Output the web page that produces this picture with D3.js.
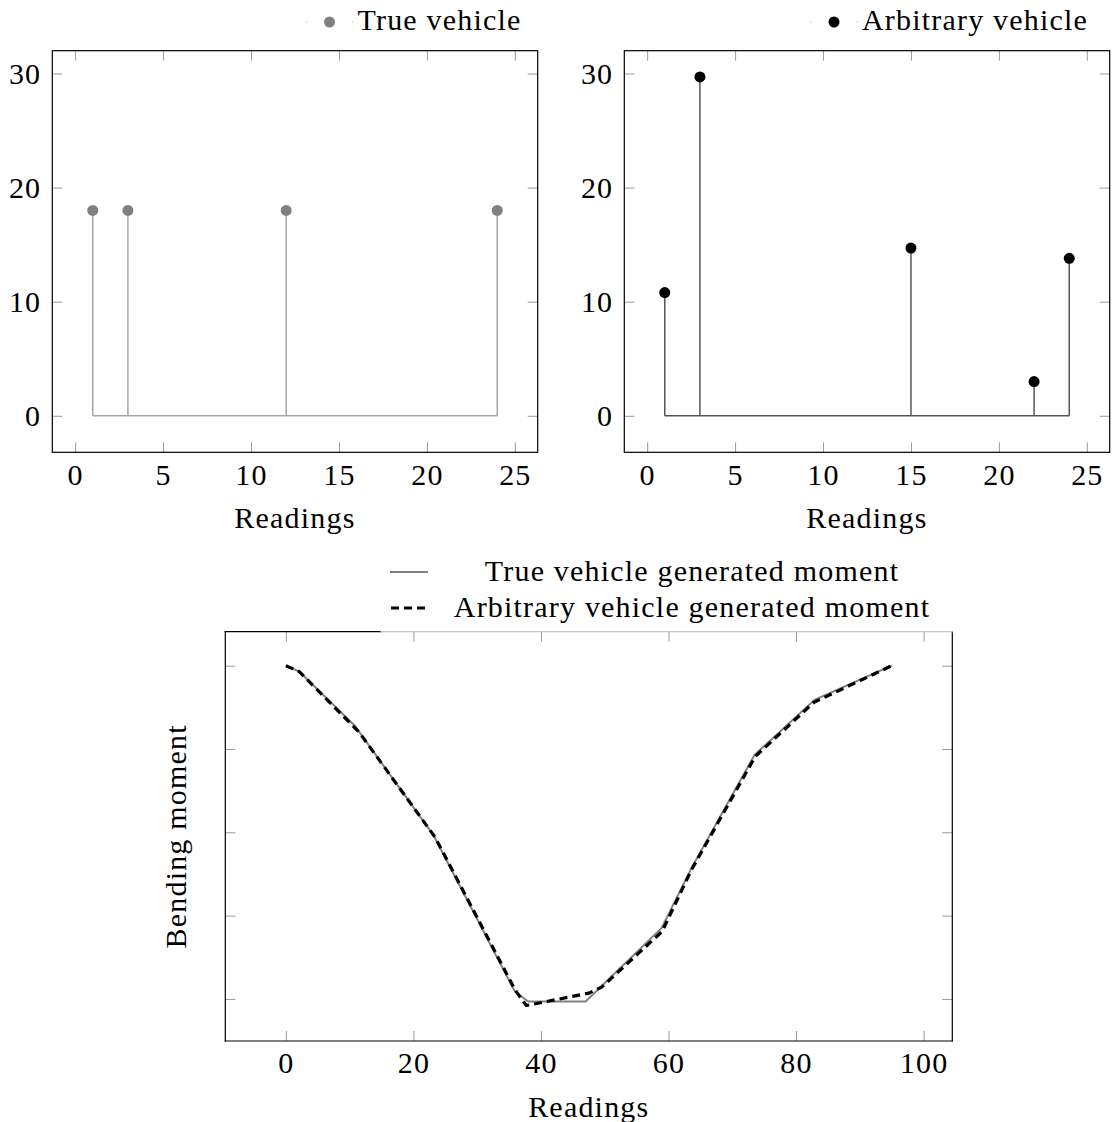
<!DOCTYPE html>
<html>
<head>
<meta charset="utf-8">
<script src="https://cdnjs.cloudflare.com/ajax/libs/d3/7.8.5/d3.min.js"></script>
<style>
body { margin: 0; background: #fff; }
svg text { font-family: "Liberation Serif", "Times New Roman", "DejaVu Serif", serif !important; }
</style>
</head>
<body>
<script>
// readings / loads for the two comb plots
var trueReadings = [1, 3, 12, 24];
var trueLoads = [18, 18, 18, 18];
var arbReadings = [1, 3, 15, 22, 24];
var arbLoads = [10.8, 29.7, 14.7, 3, 13.8];
var combTicksX = [0, 5, 10, 15, 20, 25];
var combTicksY = [0, 10, 20, 30];

// bending moment curves (y axis has no labels, arbitrary units)
var trueMomentX = [0, 2.1, 10.8, 23.1, 35.9, 38, 47, 58.9, 63.6, 73.5, 82.9, 95];
var trueMomentY = [0, -0.07, -0.72, -2.03, -3.91, -4.03, -4.03, -3.15, -2.43, -1.07, -0.41, 0];
var arbMomentX = [0, 2.1, 11.5, 23.4, 36, 37.7, 47.5, 49.5, 59, 63.6, 73.6, 82.8, 95];
var arbMomentY = [0, -0.07, -0.8, -2.06, -3.9, -4.08, -3.93, -3.86, -3.19, -2.45, -1.09, -0.44, 0];
var momentTicksX = [0, 20, 40, 60, 80, 100];
var momentTicksY = [0, -1, -2, -3, -4];

var w = 1113, h = 1122;
var fontSize = 30;
var serif = "'Liberation Serif', 'Times New Roman', 'DejaVu Serif', serif";

var svg = d3.select("body")
	.append("svg")
	.attr("width", w)
	.attr("height", h);

function styleAxis(a, showText) {
	a.select(".domain").remove();
	a.attr("font-family", serif).attr("font-size", fontSize);
	a.selectAll(".tick line").attr("stroke", "#9a9a9a").attr("stroke-width", 1);
	a.selectAll(".tick text").attr("fill", "#000").style("letter-spacing", "1.2px");
	if (!showText) a.selectAll(".tick text").remove();
}

function addText(x, y, s) {
	return svg.append("text")
		.attr("x", x).attr("y", y)
		.attr("font-family", serif)
		.attr("font-size", fontSize).style("letter-spacing", "1.2px")
		.text(s);
}

function drawFrame(left, right, top, bottom) {
	svg.append("rect")
		.attr("x", left).attr("y", top)
		.attr("width", right - left).attr("height", bottom - top)
		.attr("fill", "none").attr("stroke", "#000").attr("stroke-width", 1.2);
}

function combPlot(left, xs, ys, stemColor, markColor, label, legendX) {
	var top = 50.7, bottom = 452.3, right = left + 485.4;
	var x = d3.scaleLinear().domain([-1.3, 26.3]).range([left, right]);
	var y = d3.scaleLinear().domain([-3.2, 32]).range([bottom, top]);
	var data = xs.map(function (d, i) { return [d, ys[i]]; });

	svg.append("g").attr("transform", "translate(0," + bottom + ")")
		.call(d3.axisBottom(x).tickValues(combTicksX).tickSizeInner(-10).tickSizeOuter(0).tickPadding(11))
		.call(styleAxis, true);
	svg.append("g").attr("transform", "translate(0," + top + ")")
		.call(d3.axisTop(x).tickValues(combTicksX).tickSizeInner(-10).tickSizeOuter(0))
		.call(styleAxis, false);
	svg.append("g").attr("transform", "translate(" + left + ",0)")
		.call(d3.axisLeft(y).tickValues(combTicksY).tickSizeInner(-10).tickSizeOuter(0).tickPadding(11))
		.call(styleAxis, true);
	svg.append("g").attr("transform", "translate(" + right + ",0)")
		.call(d3.axisRight(y).tickValues(combTicksY).tickSizeInner(-10).tickSizeOuter(0))
		.call(styleAxis, false);

	// baseline + stems
	svg.append("line")
		.attr("x1", x(d3.min(xs))).attr("x2", x(d3.max(xs)))
		.attr("y1", y(0)).attr("y2", y(0))
		.attr("stroke", stemColor).attr("stroke-width", 1.5);
	svg.selectAll(null)
		.data(data)
		.enter()
		.append("line")
		.attr("x1", function (d) { return x(d[0]); })
		.attr("x2", function (d) { return x(d[0]); })
		.attr("y1", y(0))
		.attr("y2", function (d) { return y(d[1]); })
		.attr("stroke", stemColor).attr("stroke-width", 1.5);
	svg.selectAll(null)
		.data(data)
		.enter()
		.append("circle")
		.attr("cx", function (d) { return x(d[0]); })
		.attr("cy", function (d) { return y(d[1]); })
		.attr("r", 5.5)
		.attr("fill", markColor);

	drawFrame(left, right, top, bottom);

	addText((left + right) / 2, 528, "Readings").attr("text-anchor", "middle");

	// legend
	[-23, 23].forEach(function (dx) {
		svg.append("line")
			.attr("x1", legendX + dx - 0.6).attr("x2", legendX + dx + 0.6)
			.attr("y1", 22).attr("y2", 22)
			.attr("stroke", "#bbb").attr("stroke-width", 1);
	});
	svg.append("circle").attr("cx", legendX).attr("cy", 22).attr("r", 5.5).attr("fill", markColor);
	addText(legendX + 28, 30, label);
}

combPlot(52.3, trueReadings, trueLoads, "#a6a6a6", "#808080", "True vehicle", 329.5);
combPlot(624.3, arbReadings, arbLoads, "#555", "#000", "Arbitrary vehicle", 834);

// bending moment plot
var mLeft = 225.3, mRight = 952.3, mTop = 631.7, mBottom = 1041;
var mx = d3.scaleLinear().domain([-9.5, 104.5]).range([mLeft, mRight]);
var my = d3.scaleLinear().domain([-4.505, 0.408]).range([mBottom, mTop]);

svg.append("g").attr("transform", "translate(0," + mBottom + ")")
	.call(d3.axisBottom(mx).tickValues(momentTicksX).tickSizeInner(-10).tickSizeOuter(0).tickPadding(11))
	.call(styleAxis, true);
svg.append("g").attr("transform", "translate(0," + mTop + ")")
	.call(d3.axisTop(mx).tickValues(momentTicksX).tickSizeInner(-10).tickSizeOuter(0))
	.call(styleAxis, false);
svg.append("g").attr("transform", "translate(" + mLeft + ",0)")
	.call(d3.axisLeft(my).tickValues(momentTicksY).tickSizeInner(-10).tickSizeOuter(0))
	.call(styleAxis, false);
svg.append("g").attr("transform", "translate(" + mRight + ",0)")
	.call(d3.axisRight(my).tickValues(momentTicksY).tickSizeInner(-10).tickSizeOuter(0))
	.call(styleAxis, false);

var momentLine = d3.line()
	.x(function (d) { return mx(d[0]); })
	.y(function (d) { return my(d[1]); });

svg.append("path")
	.datum(trueMomentX.map(function (d, i) { return [d, trueMomentY[i]]; }))
	.attr("d", momentLine)
	.attr("fill", "none").attr("stroke", "#808080").attr("stroke-width", 2);
svg.append("path")
	.datum(arbMomentX.map(function (d, i) { return [d, arbMomentY[i]]; }))
	.attr("d", momentLine)
	.attr("fill", "none").attr("stroke", "#000").attr("stroke-width", 3.2)
	.attr("stroke-dasharray", "8,5");

// frame: top edge partly hidden by the legend box
var legendLeft = 381;
[[mLeft, mTop, mLeft, mBottom, "#000"], [mLeft, mBottom, mRight, mBottom, "#000"],
 [mRight, mTop, mRight, mBottom, "#000"], [mLeft, mTop, legendLeft, mTop, "#000"],
 [legendLeft, mTop, mRight, mTop, "#c4c4c4"]].forEach(function (s) {
	svg.append("line")
		.attr("x1", s[0]).attr("y1", s[1]).attr("x2", s[2]).attr("y2", s[3])
		.attr("stroke", s[4]).attr("stroke-width", 1.2).attr("stroke-linecap", "square");
});

addText((mLeft + mRight) / 2, 1117, "Readings").attr("text-anchor", "middle");
addText(0, 0, "Bending moment")
	.attr("transform", "translate(186," + (mTop + mBottom) / 2 + ") rotate(-90)")
	.attr("text-anchor", "middle");

// legend
svg.append("line")
	.attr("x1", 390).attr("x2", 428).attr("y1", 572).attr("y2", 572)
	.attr("stroke", "#808080").attr("stroke-width", 2);
svg.append("line")
	.attr("x1", 391).attr("x2", 425).attr("y1", 608).attr("y2", 608)
	.attr("stroke", "#000").attr("stroke-width", 3).attr("stroke-dasharray", "8,5");
addText(692, 581, "True vehicle generated moment").attr("text-anchor", "middle");
addText(692, 617, "Arbitrary vehicle generated moment").attr("text-anchor", "middle");
</script>
</body>
</html>
